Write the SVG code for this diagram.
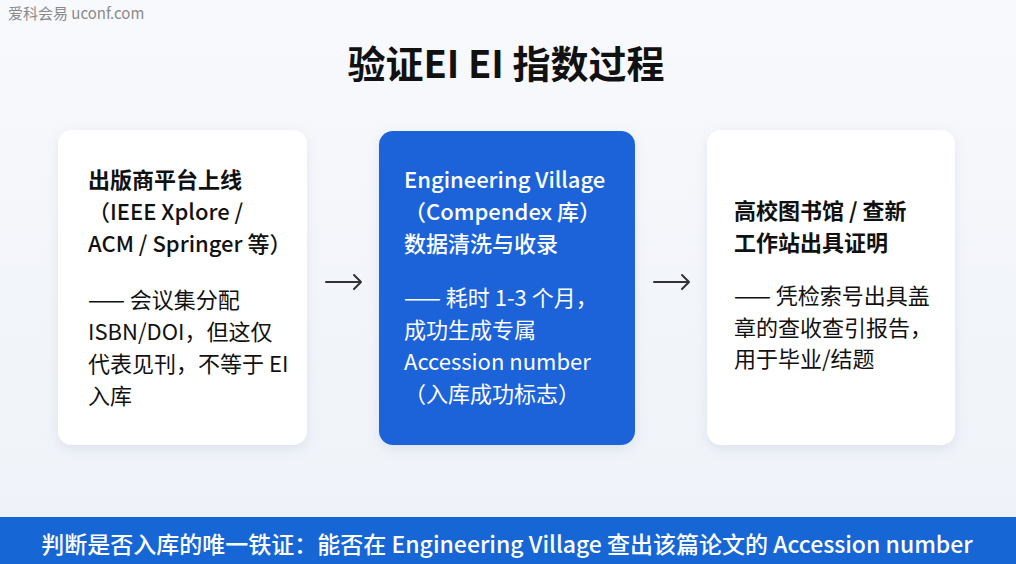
<svg xmlns="http://www.w3.org/2000/svg" width="1016" height="564" viewBox="0 0 1016 564">
  <defs>
    <linearGradient id="bg" x1="0" y1="0" x2="0" y2="1">
      <stop offset="0" stop-color="#f8f9fc"/>
      <stop offset="1" stop-color="#eef2f8"/>
    </linearGradient>
    <filter id="shadow" x="-20%" y="-20%" width="140%" height="140%">
      <feDropShadow dx="0" dy="4" stdDeviation="6" flood-color="#8090b0" flood-opacity="0.18"/>
    </filter>
    <style>
      text { font-family: "Noto Sans CJK SC", "Noto Sans", sans-serif; }
      .wm { font-size: 15px; fill: #8a8a8a; }
      .title { font-size: 38px; font-weight: 700; fill: #111; }
      .h { font-size: 22px; font-weight: 600; fill: #111; }
      .hm { font-size: 22px; font-weight: 500; fill: #111; }
      .b { font-size: 22px; font-weight: 400; fill: #111; }
      .hw { font-size: 22px; font-weight: 500; fill: #ffffff; }
      .bw { font-size: 22px; font-weight: 400; fill: #ffffff; }
      .card { fill: #ffffff; filter: url(#shadow); }
      .cardb { fill: #1b64d9; filter: url(#shadow); }
      .arrow { fill: none; stroke: #333; stroke-width: 2; stroke-linecap: round; stroke-linejoin: round; }
      .foot { font-size: 23px; font-weight: 500; fill: #ffffff; }
    </style>
  </defs>
  <rect x="0" y="0" width="1016" height="564" fill="url(#bg)"/>
  <text class="wm" x="8" y="19">爱科会易 uconf.com</text>
  <text class="title" x="506" y="78" text-anchor="middle">验证EI EI 指数过程</text>

  <g id="node-publisher">
    <rect class="card" x="58" y="130" width="249" height="315" rx="14"/>
    <text class="h" x="88" y="188">出版商平台上线</text>
    <text class="hm" x="88" y="220">（IEEE Xplore /</text>
    <text class="hm" x="88" y="252">ACM / Springer 等）</text>
    <text class="b" x="88" y="308">—— 会议集分配</text>
    <text class="b" x="88" y="340">ISBN/DOI，但这仅</text>
    <text class="b" x="88" y="372">代表见刊，不等于 EI</text>
    <text class="b" x="88" y="404">入库</text>
  </g>

  <g id="node-ev">
    <rect class="cardb" x="379" y="131" width="256" height="314" rx="14"/>
    <text class="hw" x="404" y="188">Engineering Village</text>
    <text class="hw" x="404" y="220">（Compendex 库）</text>
    <text class="hw" x="404" y="252">数据清洗与收录</text>
    <text class="bw" x="404" y="306">—— 耗时 1-3 个月，</text>
    <text class="bw" x="404" y="338">成功生成专属</text>
    <text class="bw" x="404" y="370">Accession number</text>
    <text class="bw" x="404" y="402">（入库成功标志）</text>
  </g>

  <g id="node-library">
    <rect class="card" x="707" y="130" width="248" height="315" rx="14"/>
    <text class="h" x="734" y="219">高校图书馆 / 查新</text>
    <text class="h" x="734" y="251">工作站出具证明</text>
    <text class="b" x="734" y="304">—— 凭检索号出具盖</text>
    <text class="b" x="734" y="336">章的查收查引报告，</text>
    <text class="b" x="734" y="367">用于毕业/结题</text>
  </g>

  <g id="connectors">
    <path class="arrow" d="M326 282 H361 M354 275 L361 282 L354 289"/>
    <path class="arrow" d="M654 282 H689 M682 275 L689 282 L682 289"/>
  </g>

  <g id="footer">
    <rect x="0" y="517" width="1016" height="47" fill="#1766d6"/>
    <text class="foot" x="507" y="553" text-anchor="middle">判断是否入库的唯一铁证：能否在 Engineering Village 查出该篇论文的 Accession number</text>
  </g>
</svg>
